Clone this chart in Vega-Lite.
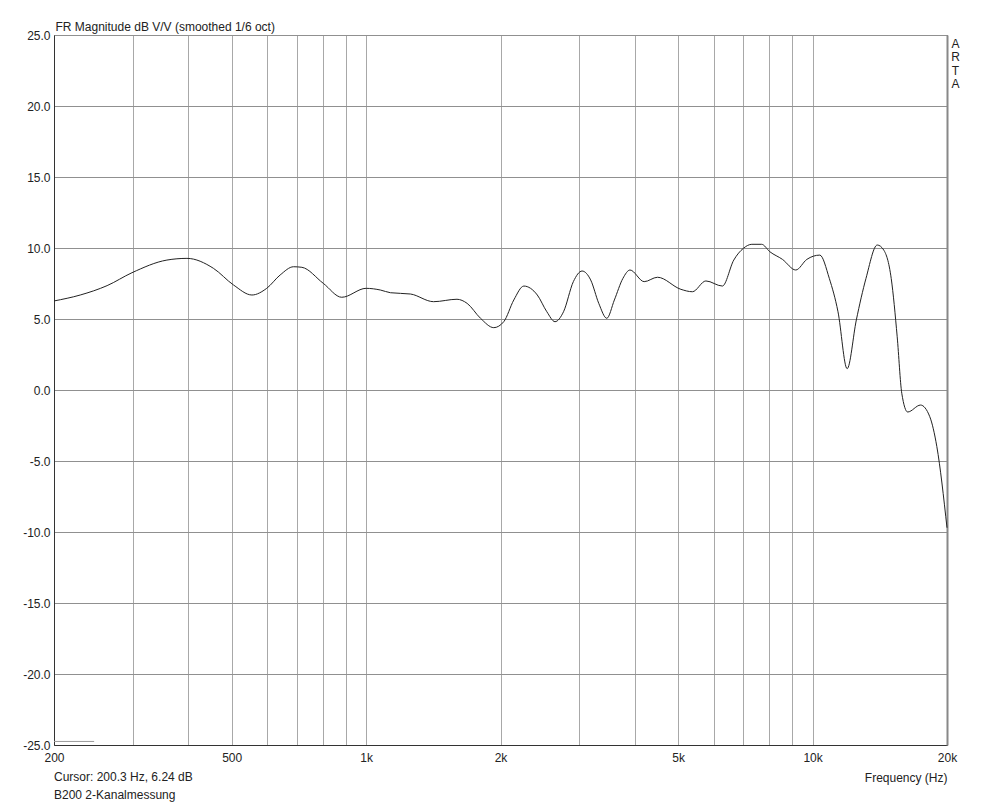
{
  "$schema": "https://vega.github.io/schema/vega-lite/v6.json",
  "autosize": "none",
  "width": 893,
  "height": 710,
  "padding": {"left": 54, "top": 35, "right": 53, "bottom": 60},
  "background": "white",
  "title": {
    "text": ["Cursor: 200.3 Hz, 6.24 dB", "B200 2-Kanalmessung"],
    "orient": "bottom",
    "anchor": "start",
    "frame": "group",
    "offset": -11,
    "font": "Liberation Sans",
    "fontSize": 12,
    "fontWeight": "normal",
    "color": "#222",
    "lineHeight": 18,
    "baseline": "top"
  },
  "config": {
    "view": {"stroke": "#333", "strokeWidth": 1},
    "axis": {
      "labelFont": "Liberation Sans",
      "labelFontSize": 12,
      "labelColor": "#222",
      "titleFont": "Liberation Sans",
      "titleFontSize": 12,
      "titleFontWeight": "normal",
      "titleColor": "#222",
      "domainColor": "#333",
      "ticks": false
    }
  },
  "layer": [
    {
      "data": {
        "values": [
          {"f": 200, "db": 6.27},
          {"f": 229, "db": 6.69},
          {"f": 263, "db": 7.35},
          {"f": 299, "db": 8.26},
          {"f": 358, "db": 9.15},
          {"f": 397, "db": 9.27},
          {"f": 455, "db": 8.57},
          {"f": 505, "db": 7.39},
          {"f": 555, "db": 6.69},
          {"f": 599, "db": 7.16},
          {"f": 642, "db": 8.1},
          {"f": 688, "db": 8.68},
          {"f": 718, "db": 8.64},
          {"f": 802, "db": 7.51},
          {"f": 882, "db": 6.53},
          {"f": 1000, "db": 7.16},
          {"f": 1077, "db": 7.04},
          {"f": 1134, "db": 6.85},
          {"f": 1257, "db": 6.76},
          {"f": 1416, "db": 6.22},
          {"f": 1598, "db": 6.39},
          {"f": 1684, "db": 6.1},
          {"f": 1804, "db": 5.05},
          {"f": 1932, "db": 4.39},
          {"f": 2034, "db": 4.81},
          {"f": 2142, "db": 6.34},
          {"f": 2256, "db": 7.32},
          {"f": 2418, "db": 6.69},
          {"f": 2540, "db": 5.51},
          {"f": 2649, "db": 4.81},
          {"f": 2768, "db": 5.51},
          {"f": 2912, "db": 7.63},
          {"f": 3046, "db": 8.38},
          {"f": 3184, "db": 7.75},
          {"f": 3320, "db": 6.1},
          {"f": 3460, "db": 5.05},
          {"f": 3598, "db": 6.34},
          {"f": 3760, "db": 7.86},
          {"f": 3900, "db": 8.45},
          {"f": 4196, "db": 7.63},
          {"f": 4494, "db": 7.94},
          {"f": 5070, "db": 7.09},
          {"f": 5380, "db": 6.92},
          {"f": 5768, "db": 7.68},
          {"f": 6280, "db": 7.32},
          {"f": 6660, "db": 9.15},
          {"f": 7000, "db": 9.98},
          {"f": 7310, "db": 10.26},
          {"f": 7690, "db": 10.26},
          {"f": 8020, "db": 9.74},
          {"f": 8560, "db": 9.2},
          {"f": 9170, "db": 8.45},
          {"f": 9710, "db": 9.2},
          {"f": 10380, "db": 9.5},
          {"f": 10900, "db": 7.86},
          {"f": 11400, "db": 5.51},
          {"f": 11950, "db": 1.5},
          {"f": 12530, "db": 4.93},
          {"f": 13170, "db": 7.86},
          {"f": 13960, "db": 10.21},
          {"f": 14430, "db": 9.86},
          {"f": 15000, "db": 7.86},
          {"f": 15470, "db": 3.75},
          {"f": 15840, "db": -0.23},
          {"f": 16330, "db": -1.55},
          {"f": 17450, "db": -1.06},
          {"f": 18300, "db": -1.88},
          {"f": 18980, "db": -3.99},
          {"f": 20000, "db": -9.7}
        ]
      },
      "mark": {"type": "line", "interpolate": "monotone", "color": "#222", "strokeWidth": 1},
      "encoding": {
        "x": {
          "field": "f",
          "type": "quantitative",
          "scale": {"type": "log", "domain": [200, 20000], "nice": false, "zero": false},
          "axis": {
            "values": [200, 300, 400, 500, 600, 700, 800, 900, 1000, 2000, 3000, 4000, 5000, 6000, 7000, 8000, 9000, 10000, 20000],
            "labelExpr": "indexof([200, 500, 1000, 2000, 5000, 10000, 20000], datum.value) >= 0 ? (datum.value >= 1000 ? (datum.value / 1000) + 'k' : datum.value + '') : ''",
            "labelOverlap": false,
            "labelFlush": false,
            "labelPadding": 7,
            "grid": true,
            "gridColor": "#a8a8a8",
            "gridWidth": 1,
            "title": "Frequency (Hz)",
            "titleAnchor": "end",
            "titleAlign": "right",
            "titleX": 893,
            "titleY": 36,
            "titleBaseline": "alphabetic"
          }
        },
        "y": {
          "field": "db",
          "type": "quantitative",
          "scale": {"domain": [-25, 25], "nice": false, "zero": false},
          "axis": {
            "values": [-25, -20, -15, -10, -5, 0, 5, 10, 15, 20, 25],
            "labelExpr": "(datum.value < 0 ? '-' : '') + format(abs(datum.value), '.1f')",
            "labelPadding": 4,
            "grid": true,
            "gridColor": "#909090",
            "gridWidth": 1,
            "title": "FR Magnitude dB V/V (smoothed 1/6 oct)",
            "titleAngle": 0,
            "titleAlign": "left",
            "titleBaseline": "alphabetic",
            "titleX": 1,
            "titleY": -5
          }
        }
      }
    },
    {
      "data": {"values": [{"f1": 200, "f2": 246, "db": -24.75}]},
      "mark": {"type": "rule", "color": "#999", "strokeWidth": 1},
      "encoding": {
        "x": {"field": "f1", "type": "quantitative"},
        "x2": {"field": "f2"},
        "y": {
          "field": "db",
          "type": "quantitative",
          "axis": {
            "orient": "right",
            "labels": false,
            "ticks": false,
            "grid": false,
            "domainColor": "#888",
            "domainWidth": 2,
            "title": ["A", "R", "T", "A"],
            "titleAngle": 0,
            "titleAlign": "center",
            "titleBaseline": "top",
            "titleX": 8,
            "titleY": 3,
            "titleLineHeight": 13.5
          }
        }
      }
    }
  ],
  "resolve": {"axis": {"y": "independent"}}
}
